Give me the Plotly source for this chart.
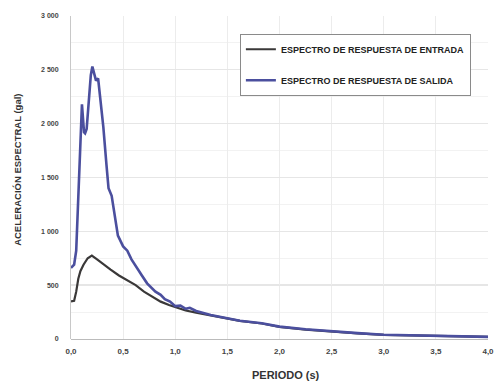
import plotly.graph_objects as go

# Periodo (s) and spectral acceleration (gal)
periodo_salida = [0.0, 0.03, 0.05, 0.07, 0.09, 0.105, 0.115, 0.125, 0.135, 0.15, 0.17, 0.19, 0.205,
                  0.22, 0.24, 0.26, 0.28, 0.31, 0.34, 0.36, 0.39, 0.42, 0.45, 0.5, 0.54, 0.58,
                  0.63, 0.68, 0.73, 0.78, 0.81, 0.86, 0.9, 0.95, 1.0, 1.05, 1.1, 1.14, 1.2,
                  1.34, 1.5, 1.62, 1.83, 2.0, 2.25, 2.5, 2.75, 3.0, 3.3, 3.6, 3.8, 4.0]
salida = [660, 690, 820, 1300, 1900, 2180, 2050, 1920, 1910, 1950, 2200, 2450, 2530,
          2460, 2400, 2420, 2250, 1970, 1620, 1400, 1330, 1120, 960, 860, 820, 740,
          670, 590, 517, 470, 440, 410, 370, 347, 305, 310, 280, 290, 260,
          223, 190, 170, 146, 115, 90, 70, 55, 40, 33, 28, 24, 20]

periodo_entrada = [0.0, 0.03, 0.05, 0.07, 0.09, 0.12, 0.16, 0.2, 0.25, 0.3, 0.38, 0.46,
                   0.54, 0.62, 0.7, 0.78, 0.86, 0.94, 1.02, 1.1, 1.2, 1.34, 1.5, 1.62,
                   1.83, 2.0, 2.25, 2.5, 2.75, 3.0, 3.3, 3.6, 3.8, 4.0]
entrada = [350, 355, 440, 560, 630, 690, 750, 775, 740, 700, 645, 590,
           548, 500, 440, 390, 347, 315, 288, 265, 245, 218, 188, 168,
           144, 113, 88, 68, 53, 39, 32, 27, 23, 19]

x_ticks = [0, 0.5, 1.0, 1.5, 2.0, 2.5, 3.0, 3.5, 4.0]
x_tick_text = ["0,0", "0,5", "1,0", "1,5", "2,0", "2,5", "3,0", "3,5", "4,0"]
y_ticks = [0, 500, 1000, 1500, 2000, 2500, 3000]
y_tick_text = ["0", "500", "1 000", "1 500", "2 000", "2 500", "3 000"]

font_family = "Liberation Sans, Arial, sans-serif"

fig = go.Figure()
fig.add_trace(go.Scatter(
    x=periodo_entrada, y=entrada, mode="lines",
    name="ESPECTRO DE RESPUESTA DE ENTRADA",
    line=dict(color="#3a3838", width=2.2),
    legendgroup="a",
))
fig.add_trace(go.Scatter(
    x=periodo_salida, y=salida, mode="lines",
    name="ESPECTRO DE RESPUESTA DE SALIDA",
    line=dict(color="#4b4f9e", width=2.6),
    legendgroup="b",
))

fig.update_layout(
    width=499, height=383,
    margin=dict(l=71, r=11, t=16, b=44),
    paper_bgcolor="white",
    plot_bgcolor="white",
    font=dict(family=font_family, color="#333333"),
    showlegend=True,
    legend=dict(
        x=0.405, y=0.945, xanchor="left", yanchor="top",
        bgcolor="white", bordercolor="#8a8a8a", borderwidth=1,
        font=dict(size=9, family=font_family, color="#222222", weight="bold"),
        tracegroupgap=12, itemwidth=30,
    ),
    xaxis=dict(
        range=[0, 4.0], automargin=False,
        tickvals=x_ticks, ticktext=x_tick_text,
        tickfont=dict(size=8, color="#444444", weight="bold"),
        showgrid=True, gridcolor="#ececec", gridwidth=1,
        zeroline=False, showline=False,
        ticks="", ticklabelstandoff=6,
    ),
    yaxis=dict(
        range=[0, 3000], automargin=False,
        tickvals=y_ticks, ticktext=y_tick_text,
        tickfont=dict(size=7, color="#444444", weight="bold"),
        showgrid=True, gridcolor="#e6e6e6", gridwidth=1,
        minor=dict(dtick=250, showgrid=True, gridcolor="#f2f2f2"),
        zeroline=True, zerolinecolor="#bbbbbb", zerolinewidth=1,
        showline=True, linecolor="#c8c8c8", linewidth=1,
        ticks="", ticklabelstandoff=10,
    ),
    annotations=[
        dict(
            text="ACELERACIÓN ESPECTRAL (gal)", textangle=-90,
            xref="paper", yref="paper", x=-0.13, y=0.523,
            xanchor="center", yanchor="middle", showarrow=False,
            font=dict(size=9.5, weight="bold", color="#333333", family=font_family),
        ),
        dict(
            text="PERIODO (s)",
            xref="paper", yref="paper", x=0.516, y=-0.111,
            xanchor="center", yanchor="middle", showarrow=False,
            font=dict(size=11, weight="bold", color="#333333", family=font_family),
        ),
    ],
)

fig.add_shape(type="line", xref="paper", x0=0, x1=1, yref="y", y0=500, y1=500,
              line=dict(color="#b5b5b5", width=1), layer="below")

fig.write_html("out.html")
